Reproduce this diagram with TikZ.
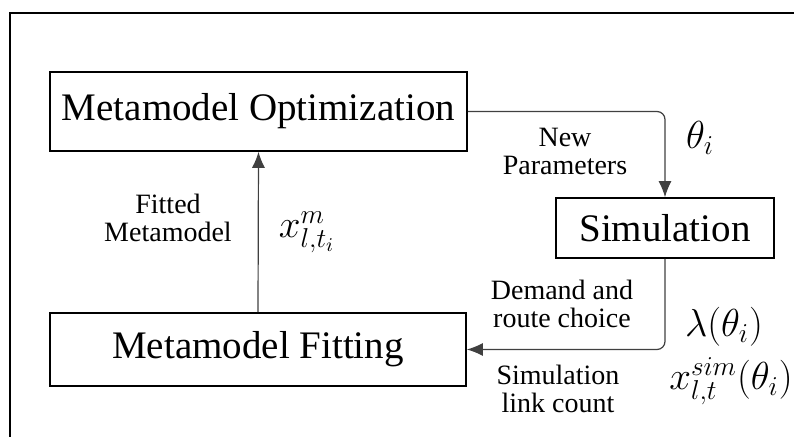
\documentclass[tikz,border=0pt]{standalone}
\usepackage{fontspec}
\usepackage{fix-cm}
\setmainfont{Liberation Serif}
\usetikzlibrary{arrows.meta}

\begin{document}
\begin{tikzpicture}[x=0.5pt,y=-0.5pt,
                box/.style={
                    draw=black,
                    line width=0.8pt,
                    rectangle,
                    align=center,
                    inner sep=0pt,
                    font=\fontsize{19.5}{22}\selectfont
                },
                note/.style={
                    align=center,
                    font=\fontsize{14}{14}\selectfont
                },
                sym/.style={
                    font=\fontsize{19.5}{22}\selectfont
                },
                arrow/.style={
                    -{Latex[length=8pt,width=6.5pt]},
                    line width=0.6pt,
                    draw=black!75,
                    rounded corners=4pt
                }
            ]
    
                \clip (0,0) rectangle (794,437);
                \draw[line width=1pt] (10,13) rectangle (830,470);
    
                \node[box, minimum width=208.5pt, minimum height=39.5pt] (opt) at (258.5,111.5) {Metamodel Optimization};
                \node[box, minimum width=109pt, minimum height=30pt]     (sim) at (665,228)     {Simulation};
                \node[box, minimum width=208pt, minimum height=36.5pt]   (fit) at (258,349.5)   {Metamodel Fitting};
            
                \draw[arrow] (opt.east) -| (sim.north);
                \draw[arrow] (sim.south) |- (fit.east);
                \draw[arrow] (fit.north) -- (opt.south);
    
                \node[note] (newpar) at (565,151) {New\\Parameters};
                \node[sym]  (theta)  at (700,138) {$\theta_i$};
                \node[note] (demand) at (562,304) {Demand and\\route choice};
                \node[note] (count)  at (558,389) {Simulation\\link count};
                \node[sym]  (lambda) at (724,327) {$\lambda(\theta_i)$};
                \node[sym]  (xsim)   at (731,381) {$x^{sim}_{l,t}(\theta_i)$};
                \node[note] (fitted) at (168,218) {Fitted\\Metamodel};
                \node[sym]  (xm)     at (307,232) {$x^{m}_{l,t_i}$};
        \end{tikzpicture}
\end{document}
